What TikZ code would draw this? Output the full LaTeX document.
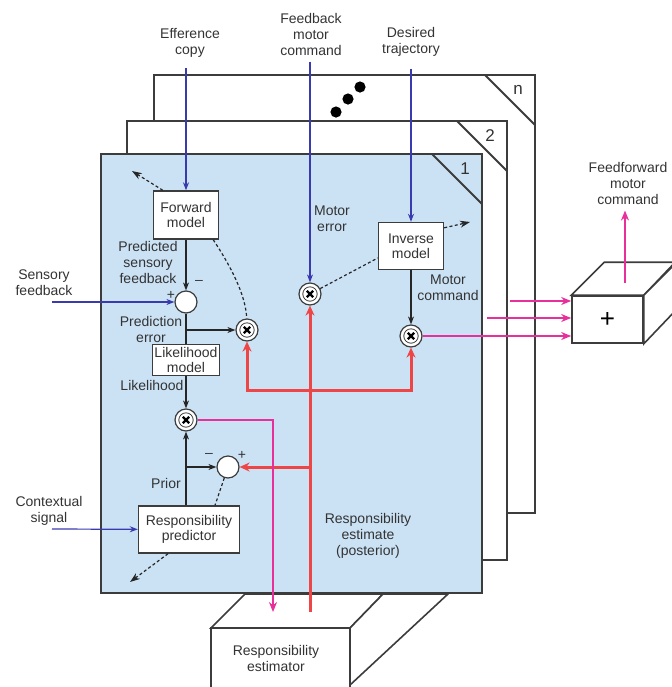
\documentclass[tikz,border=0pt]{standalone}
\usepackage{fontspec}
\setmainfont{Liberation Sans}
\usetikzlibrary{arrows.meta,positioning}

\definecolor{planeblue}{RGB}{203,226,245}
\definecolor{sigblue}{RGB}{58,58,176}
\definecolor{errred}{RGB}{238,70,70}
\definecolor{outmag}{RGB}{232,48,156}
\definecolor{edgegray}{RGB}{60,60,60}

\tikzset{
  lbl/.style={align=center, font=\fontsize{7}{8}\selectfont, text=black!80, inner sep=0pt},
  modelbox/.style={draw=edgegray, line width=0.7pt, fill=white, align=center,
    font=\fontsize{7}{7.6}\selectfont, text=black!80, inner sep=1pt},
  sumnode/.style={circle, draw=edgegray, line width=0.6pt, fill=white, minimum size=11pt, inner sep=0pt},
  multnode/.style={sumnode},
  blk/.style={line width=0.6pt, black!85, -{Stealth[length=4pt,width=3pt]}},
  blu/.style={line width=0.6pt, sigblue, -{Stealth[length=4pt,width=3pt]}},
  redl/.style={line width=1.5pt, errred, -{Stealth[length=5pt,width=4.5pt]}},
  mag/.style={line width=0.9pt, outmag, -{Stealth[length=5pt,width=4pt]}},
  dashl/.style={line width=0.6pt, dash pattern=on 1.5pt off 1.2pt, black!85},
  plane/.style={draw=edgegray, line width=1pt},
}

\begin{document}
\begin{tikzpicture}[x=0.5pt,y=-0.5pt]
\useasboundingbox (0,0) rectangle (671,687);

% responsibility estimator block
\draw[plane, line width=0.8pt, fill=white] (211,628) rectangle (350,700);
\draw[plane, line width=0.8pt, fill=white] (211,628) -- (245,594) -- (383,594) -- (350,628) -- cycle;
\draw[plane, line width=0.8pt, fill=white] (350,628) -- (383,594) -- (448,594) -- (350,685) -- cycle;
\node[lbl] (est) at (276,658) {Responsibility\\estimator};

% stack of modules n, 2, 1
\foreach \xa/\ya/\xb/\yb/\lab/\col in {154/75/535/513/n/white,127/121/507/560/2/white,101/154/482/593/1/planeblue}{
  \draw[plane, fill=\col] (\xa,\ya) rectangle (\xb,\yb);
  \draw[plane] (\xb-50,\ya) -- (\xb,\ya+50);
  \node[font=\fontsize{8.5}{9}\selectfont, text=black!80] (num\lab) at (\xb-17,\ya+15) {\lab};
}
\foreach \x/\y in {336/112,348/99,360/87}
  \fill (\x,\y) circle (2.8pt);

% blocks
\node[modelbox, minimum width=32.5pt, minimum height=24pt] (fwd) at (186,215) {Forward\\model};
\node[modelbox, minimum width=32.5pt, minimum height=23.5pt] (inv) at (411,246) {Inverse\\model};
\node[modelbox, minimum width=33.5pt, minimum height=15.5pt] (lik) at (186,360) {Likelihood\\model};
\node[modelbox, minimum width=50.5pt, minimum height=23.5pt] (pred) at (189,529.5) {Responsibility\\predictor};
\node[draw=edgegray, line width=0.8pt, fill=white, minimum width=35.5pt, minimum height=23.5pt,
  font=\fontsize{13}{13}\selectfont] (plus) at (607.5,319.5) {+};
\draw[plane, line width=0.8pt, fill=white] (plus.north west) -- ++(33,-33) -- ++(71,0) -- (plus.north east) -- cycle;
\draw[plane, line width=0.8pt, fill=white] (plus.north east) -- ++(33,-33) -- ++(0,47) -- (plus.south east) -- cycle;

% summing and multiplying junctions
\node[sumnode] (sumA) at (186,302) {};
\node[sumnode] (sumB) at (228,467) {};
\node[multnode] (mulPE) at (247,330) {};
\node[multnode] (mulME) at (310,294) {};
\node[multnode] (mulMC) at (411,336) {};
\node[multnode] (mulLP) at (186,420) {};
\foreach \m in {mulPE,mulME,mulMC,mulLP}{
  \draw[edgegray, line width=0.4pt] (\m) circle (3.6pt);
  \draw[line width=1.1pt] ([shift={(-1.6pt,-1.6pt)}]\m.center) -- ([shift={(1.6pt,1.6pt)}]\m.center);
  \draw[line width=1.1pt] ([shift={(-1.6pt,1.6pt)}]\m.center) -- ([shift={(1.6pt,-1.6pt)}]\m.center);
}

% labels
\node[lbl] (effl) at (190,43) {Efference\\copy};
\node[lbl] (fbl) at (311,34) {Feedback\\motor\\command};
\node[lbl] (dtl) at (411,42) {Desired\\trajectory};
\node[lbl] (ffl) at (628,183) {Feedforward\\motor\\command};
\node[lbl] (sfl) at (44,283) {Sensory\\feedback};
\node[lbl] (csl) at (49,511) {Contextual\\signal};
\node[lbl] (psl) at (148,262) {Predicted\\sensory\\feedback};
\node[lbl] (pel) at (151,329) {Prediction\\error};
\node[lbl] (lkl) at (152,385) {Likelihood};
\node[lbl] (prl) at (166,483) {Prior};
\node[lbl] (mel) at (332,219) {Motor\\error};
\node[lbl] (mcl) at (448,288) {Motor\\command};
\node[lbl] (rel) at (368,536) {Responsibility\\estimate\\(posterior)};
\node[lbl] (minA) at (199,282) {--};
\node[lbl] (plA) at (171,295) {+};
\node[lbl] (minB) at (209,455) {--};
\node[lbl] (plB) at (242,455) {+};

% free ends
\coordinate (sfin) at (52,302);
\coordinate (csin) at (52,529);
\coordinate (fwdout) at (132,171);
\coordinate (invout) at (470,222);
\coordinate (predout) at (130,582);
\coordinate (redfoot) at (310,612);
\coordinate (redbar) at (310,390);
\coordinate (magfoot) at (273,612);
\coordinate (out2) at (487,318);
\coordinate (outn) at (510,301);
\coordinate (ffbase) at (625,283);

% input signals
\draw[blu, shorten <=5pt] (effl.south -| fwd) -- (fwd);
\draw[blu, shorten <=3pt] (fbl.south -| mulME) -- (mulME);
\draw[blu, shorten <=6pt] (dtl.south -| inv) -- (inv);
\draw[blu] (sfin) -- (sumA);
\draw[blu] (csin) -- (pred);

% internal flow
\draw[blk] (fwd) -- (sumA);
\draw[blk, -] (sumA) -- (lik);
\draw[blk] (sumA |- mulPE) -- (mulPE);
\draw[blk] (lik) -- (mulLP);
\draw[blk] (pred.north -| mulLP) -- (mulLP);
\draw[blk] (mulLP |- sumB) -- (sumB);
\draw[blk] (inv) -- (mulMC);

% learning signals (dashed)
\draw[dashl, -{Stealth[length=5pt,width=3.5pt]}] ([xshift=5pt]fwd.north west) -- (fwdout);
\draw[dashl] ([xshift=-3pt]fwd.south east) .. controls (230,265) and (246,295) .. (mulPE);
\draw[dashl] (mulME) -- ([yshift=-6pt]inv.west);
\draw[dashl, -{Stealth[length=5pt,width=3.5pt]}] ([yshift=-3pt]inv.north east) -- (invout);
\draw[dashl] (sumB) -- ([xshift=13pt]pred.north);
\draw[dashl, -{Stealth[length=5pt,width=3.5pt]}] ([xshift=-10.5pt]pred.south) -- (predout);

% responsibility signals
\draw[redl] (redfoot) -- (mulME);
\draw[redl] (redbar) -| (mulPE);
\draw[redl] (redbar) -| (mulMC);
\draw[redl] (redfoot |- sumB) -- (sumB);

% outputs
\draw[mag] (mulLP) -| (magfoot);
\draw[mag] (mulMC) -- (mulMC -| plus.west);
\draw[mag] (out2) -- (out2 -| plus.west);
\draw[mag] (outn) -- (outn -| plus.west);
\draw[mag] (ffbase) -- ([yshift=-3pt]ffl.south -| ffbase);
\end{tikzpicture}
\end{document}
